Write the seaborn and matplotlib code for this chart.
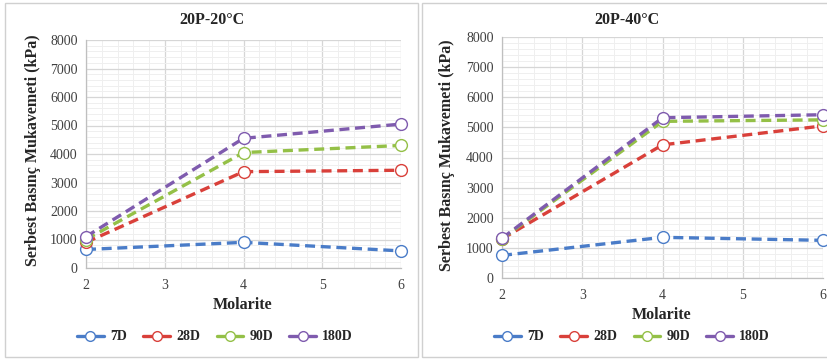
import matplotlib
matplotlib.use("Agg")
import matplotlib.pyplot as plt
import seaborn as sns
import pandas as pd
from matplotlib.patches import Rectangle
from matplotlib.lines import Line2D
from matplotlib.ticker import MultipleLocator

molarite = [2, 4, 6]
series = ["7D", "28D", "90D", "180D"]
colors = ["#4A7CC8", "#D9403A", "#94C047", "#7F5BAE"]

left_vals = {
    "7D": [650, 900, 600],
    "28D": [900, 3380, 3430],
    "90D": [1000, 4050, 4300],
    "180D": [1100, 4550, 5050],
}
right_vals = {
    "7D": [750, 1350, 1250],
    "28D": [1300, 4420, 5050],
    "90D": [1300, 5200, 5250],
    "180D": [1320, 5320, 5420],
}
titles = ["20P-20°C", "20P-40°C"]
ylabel = "Serbest Basınç Mukavemeti (kPa)"
xlabel = "Molarite"

sns.set_style("white")
plt.rcParams["font.family"] = ["Liberation Serif", "DejaVu Serif"]

W, H = 827, 362
fig = plt.figure(figsize=(W / 100, H / 100), dpi=100)

def fx(px):
    return px / W

def fy(py):
    return 1 - py / H

# panel borders
for (x0, x1) in [(5, 418), (422, 840)]:
    fig.patches.append(Rectangle((fx(x0), fy(357)), fx(x1 - x0), (357 - 3) / H,
                                 transform=fig.transFigure, fill=False,
                                 edgecolor="#D0D0D0", linewidth=1.0))

specs = [
    dict(vals=left_vals, ax=(86, 401, 40, 268), title=(212, 20), ylab=(33, 150),
         xlab=(243, 305), leg=(215, 337)),
    dict(vals=right_vals, ax=(502, 823, 37, 278), title=(627, 20), ylab=(447, 155),
         xlab=(662, 315), leg=(632, 337)),
]

for i, sp in enumerate(specs):
    l, r, t, b = sp["ax"]
    ax = fig.add_axes([fx(l), fy(b), fx(r - l), (b - t) / H])
    rows = []
    for s in series:
        for m, v in zip(molarite, sp["vals"][s]):
            rows.append({"Molarite": m, "Value": v, "Series": s})
    df = pd.DataFrame(rows)
    sns.lineplot(data=df, x="Molarite", y="Value", hue="Series", hue_order=series,
                 palette=colors, marker="o", markersize=8.5, markerfacecolor="white",
                 markeredgewidth=1.0, linewidth=2.4, ax=ax, legend=False, zorder=3,
                 clip_on=False)
    for ln, c in zip(ax.lines, colors):
        ln.set_dashes([3.0, 1.7])
        ln.set_markeredgecolor(c)
        ln.set_dash_capstyle("butt")
    ax.set_xlim(2, 6)
    ax.set_ylim(0, 8000)
    ax.xaxis.set_major_locator(MultipleLocator(1))
    ax.xaxis.set_minor_locator(MultipleLocator(0.2))
    ax.yaxis.set_major_locator(MultipleLocator(1000))
    ax.yaxis.set_minor_locator(MultipleLocator(200))
    ax.grid(which="major", color="#D6D6D6", linewidth=0.9)
    ax.grid(which="minor", color="#EFEFEF", linewidth=0.7)
    ax.set_axisbelow(True)
    for s in ["top", "right"]:
        ax.spines[s].set_visible(False)
    for s in ["left", "bottom"]:
        ax.spines[s].set_color("#BFBFBF")
        ax.spines[s].set_linewidth(0.9)
    ax.tick_params(axis="both", which="major", length=3, color="#BFBFBF",
                   labelsize=10, labelcolor="#404040", pad=3)
    ax.tick_params(axis="both", which="minor", length=0)
    ax.tick_params(axis="x", pad=5)
    ax.set_xlabel("")
    ax.set_ylabel("")

    fig.text(fx(sp["title"][0]), fy(sp["title"][1]), titles[i], ha="center", va="center",
             fontsize=11.5, fontweight="bold", color="#262626")
    fig.text(fx(sp["ylab"][0]), fy(sp["ylab"][1]), ylabel, ha="center", va="center",
             rotation=90, fontsize=11.5, fontweight="bold", color="#262626")
    fig.text(fx(sp["xlab"][0]), fy(sp["xlab"][1]), xlabel, ha="center", va="center",
             fontsize=11.5, fontweight="bold", color="#262626")
    handles = [Line2D([], [], color=c, linewidth=2.4,
                      marker="o", markersize=7, markerfacecolor="white",
                      markeredgecolor=c, markeredgewidth=1.0) for c in colors]
    fig.legend(handles=handles, labels=series, loc="center",
               bbox_to_anchor=(fx(sp["leg"][0]), fy(sp["leg"][1])), ncol=4,
               frameon=False, prop={"weight": "bold", "size": 10},
               handlelength=1.9, columnspacing=1.2, handletextpad=0.45,
               labelcolor="#262626")

fig.savefig("out.png", dpi=100, facecolor="white")
